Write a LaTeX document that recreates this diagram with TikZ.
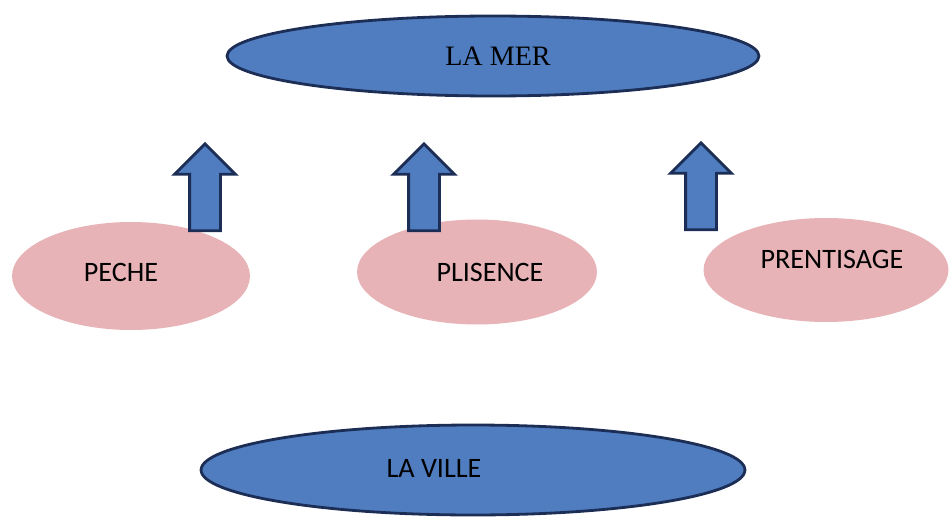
\documentclass[tikz,border=0pt]{standalone}
\usepackage{fontspec}
\setmainfont{Carlito}
\newfontfamily\merfont{Liberation Serif}
\usepackage{xcolor}
\usepackage{tikz}
\usetikzlibrary{shapes.geometric,shapes.arrows}

\begin{document}
\begin{tikzpicture}[
  x=0.02cm, y=0.02cm,
  place/.style={ellipse, draw=merline, line width=1.6pt, fill=merblue,
    inner sep=0pt},
  activity/.style={ellipse, draw=none, fill=actpink, inner sep=0pt},
  uparrow/.style={single arrow, draw=merline, line width=1.6pt, fill=merblue,
    shape border rotate=90, inner sep=0.28cm, minimum width=1.2cm,
    single arrow head extend=0.3cm, minimum height=1.74cm},
  word/.style={font=\fontsize{16}{19}\selectfont, text=black}
]
\definecolor{merblue}{HTML}{4F7DC0}
\definecolor{merline}{HTML}{1C2E55}
\definecolor{actpink}{HTML}{E8B3B7}

\useasboundingbox (0,0) rectangle (949,518);

% Sea and town
\node[place, minimum width=10.64cm, minimum height=1.6cm] (mer) at (493,462) {};
\node[word, font=\merfont\fontsize{16}{19}\selectfont] at ([xshift=0.1cm]mer.center) {LA MER};
\node[place, minimum width=10.88cm, minimum height=1.8cm] (ville) at (473,48) {};
\node[word] at ([xshift=-0.78cm,yshift=0.04cm]ville.center) {LA VILLE};

% Activities
\node[activity, minimum width=4.76cm, minimum height=2.16cm] (peche) at (131,242) {};
\node[word] at ([xshift=-0.2cm,yshift=0.08cm]peche.center) {PECHE};
\node[activity, minimum width=4.8cm, minimum height=2.1cm] (plisence) at (477,246) {};
\node[word] at ([xshift=0.26cm]plisence.center) {PLISENCE};
\node[activity, minimum width=4.9cm, minimum height=2.08cm] (prentisage) at (826,248) {};
\node[word] at ([xshift=0.12cm,yshift=0.22cm]prentisage.center) {PRENTISAGE};

% Arrows up to the sea
\node[uparrow] (up1) at (205,323) {};
\node[uparrow] (up2) at (424,323) {};
\node[uparrow] (up3) at (701,324) {};
\end{tikzpicture}
\end{document}
